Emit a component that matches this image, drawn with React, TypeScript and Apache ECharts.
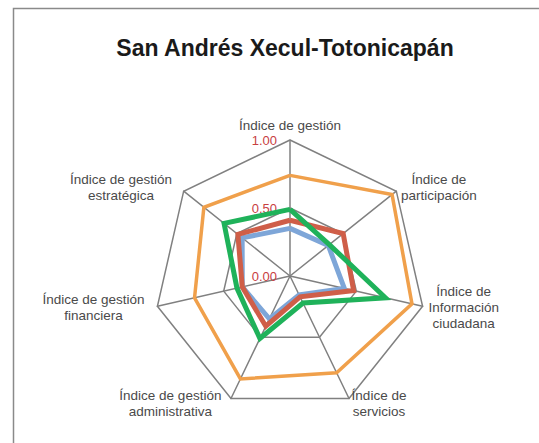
import React, { useEffect, useRef } from "react";
import * as echarts from "echarts";

const titleText = "San Andrés Xecul-Totonicapán";

// Indicators listed counter-clockwise from the top (ECharts radar order)
const indicatorNames = [
  "Índice de gestión",
  "Índice de gestión\nestratégica",
  "Índice de gestión\nfinanciera",
  "Índice de gestión\nadministrativa",
  "Índice de\nservicios",
  "Índice de\nInformación\nciudadana",
  "Índice de\nparticipación",
];
// which rich style each indicator name uses (left-side names sit a bit further out)
const nameStyles = ["c", "l", "l", "l", "c", "c", "c"];

const orangeValues = [0.74, 0.81, 0.72, 0.84, 0.79, 0.92, 0.96];
const blueValues = [0.35, 0.45, 0.36, 0.35, 0.155, 0.41, 0.36];
const redValues = [0.41, 0.49, 0.36, 0.41, 0.17, 0.48, 0.5];
const greenValues = [0.49, 0.62, 0.4, 0.51, 0.22, 0.72, 0.37];

const tickValues = [0, 0.5, 1];

export default function App() {
  const ref = useRef<HTMLDivElement>(null);
  useEffect(() => {
    document.body.style.margin = "0";
    const chart = echarts.init(ref.current!, null, { renderer: "svg" });
    const font = "'Liberation Sans', Arial, sans-serif";
    const nameText = {
      color: "#4a4a4a",
      fontSize: 13.5,
      lineHeight: 16,
      fontFamily: font,
      align: "center",
    };
    const mk = (name: string, values: number[], color: string, width: number) => ({
      type: "radar",
      name,
      symbol: "none",
      data: [{ value: values, name }],
      lineStyle: { color, width, join: "miter" },
      itemStyle: { color },
    });
    chart.setOption({
      animation: false,
      backgroundColor: "#ffffff",
      title: {
        text: titleText,
        left: 280,
        textAlign: "center",
        top: 31,
        textStyle: { fontFamily: font, fontWeight: "bold", fontSize: 23, color: "#1a1a1a" },
      },
      graphic: [
        {
          type: "rect",
          shape: { x: 13.5, y: 8.5, width: 700, height: 600 },
          style: { fill: "none", stroke: "#8a8a8a", lineWidth: 1.5 },
          silent: true,
        },
      ],
      radar: {
        center: [290, 276],
        radius: 136,
        startAngle: 90,
        shape: "polygon",
        splitNumber: 2,
        indicator: indicatorNames.map((n, i) => ({
          name: n,
          min: 0,
          max: 1,
          axisLabel:
            i === 0
              ? {
                  show: true,
                  color: "#c8403f",
                  fontSize: 13,
                  fontFamily: font,
                  margin: 13,
                  formatter: (v: number) => (tickValues.includes(v) ? v.toFixed(2) : ""),
                }
              : { show: false },
        })),
        axisName: {
          color: "#4a4a4a",
          fontSize: 13.5,
          lineHeight: 16,
          fontFamily: font,
          formatter: (value: string) => {
            const i = indicatorNames.indexOf(value);
            const s = nameStyles[i] || "c";
            return value
              .split("\n")
              .map((line) => `{${s}|${line}}`)
              .join("\n");
          },
          rich: {
            c: { ...nameText },
            l: { ...nameText, padding: [0, 7, 0, 0] },
          },
        },
        nameGap: 6,
        axisLine: { lineStyle: { color: "#808080", width: 1.5 } },
        splitLine: { lineStyle: { color: "#808080", width: 1.5 } },
        splitArea: { show: false },
        axisLabel: { show: false },
        axisTick: { show: false },
      },
      series: [
        mk("orange", orangeValues, "#f0a04b", 3.5),
        mk("blue", blueValues, "#7ea6d8", 5),
        mk("red", redValues, "#cf5e48", 5),
        mk("green", greenValues, "#1fb25a", 5),
      ],
    });
    return () => chart.dispose();
  }, []);
  return <div ref={ref} style={{ width: 539, height: 443 }} />;
}
